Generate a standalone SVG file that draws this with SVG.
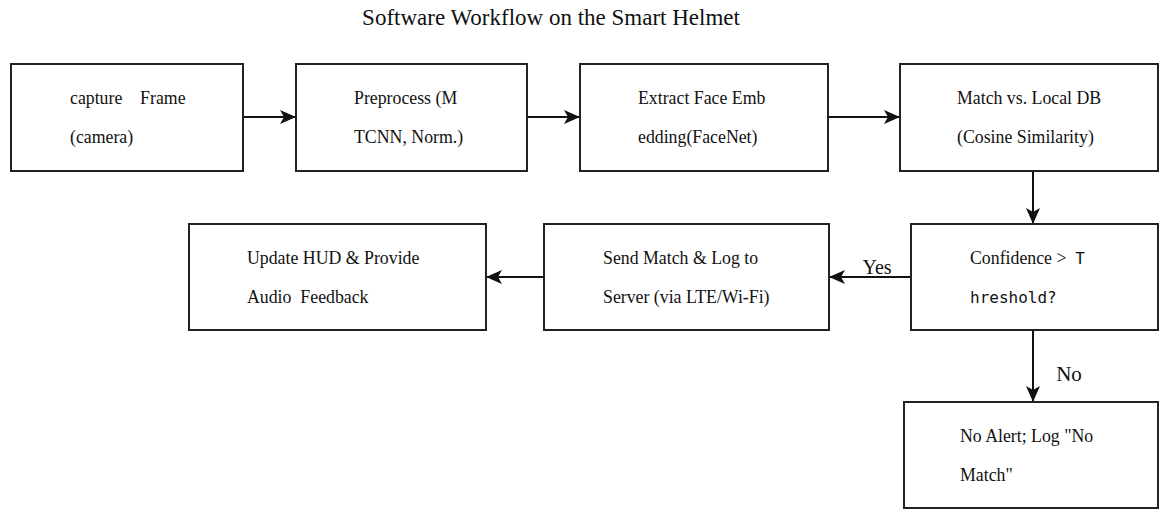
<svg xmlns="http://www.w3.org/2000/svg" width="1160" height="509" viewBox="0 0 1160 509">
<style>
.box{fill:#fff;stroke:#222;stroke-width:2}
.t{font-family:"Liberation Serif","Times New Roman",serif;font-size:17.8px;fill:#111}
.m{font-family:"DejaVu Sans Mono","Liberation Mono",monospace;font-size:16px;fill:#111}
.lbl{font-family:"Liberation Serif","Times New Roman",serif;font-size:20px;fill:#111}
.c{fill:none;stroke:#111;stroke-width:2}
</style>
<defs>
<marker id="ah" viewBox="0 0 16 14" refX="15" refY="7" markerWidth="16" markerHeight="14" markerUnits="userSpaceOnUse" orient="auto">
<path d="M0,0 L16,7 L0,14 L4,7 Z" fill="#111"/>
</marker>
</defs>
<rect width="1160" height="509" fill="#fff"/>
<text x="551" y="25" text-anchor="middle" class="lbl" style="font-size:23px">Software Workflow on the Smart Helmet</text>
<g id="connectors">
<line class="c" x1="243" y1="117" x2="295" y2="117" marker-end="url(#ah)"/>
<line class="c" x1="527" y1="117" x2="579" y2="117" marker-end="url(#ah)"/>
<line class="c" x1="828" y1="117" x2="899" y2="117" marker-end="url(#ah)"/>
<line class="c" x1="1033" y1="171" x2="1033" y2="223" marker-end="url(#ah)"/>
<line class="c" x1="911" y1="277" x2="830" y2="277" marker-end="url(#ah)"/>
<line class="c" x1="544" y1="277" x2="487" y2="277" marker-end="url(#ah)"/>
<line class="c" x1="1033" y1="330" x2="1033" y2="401" marker-end="url(#ah)"/>
<text x="877" y="274" text-anchor="middle" class="lbl">Yes</text>
<text x="1069" y="381" text-anchor="middle" class="lbl" style="font-size:21px">No</text>
</g>
<g id="capture">
<rect class="box" x="11" y="64" width="232" height="107"/>
<text class="t" x="70" y="104" xml:space="preserve">capture    Frame</text>
<text class="t" x="70" y="143">(camera)</text>
</g>
<g id="preprocess">
<rect class="box" x="296" y="64" width="231" height="107"/>
<text class="t" x="354" y="104">Preprocess (M</text>
<text class="t" x="354" y="143">TCNN, Norm.)</text>
</g>
<g id="extract">
<rect class="box" x="580" y="64" width="248" height="107"/>
<text class="t" x="638" y="104">Extract Face Emb</text>
<text class="t" x="638" y="143">edding(FaceNet)</text>
</g>
<g id="match">
<rect class="box" x="900" y="64" width="258" height="107"/>
<text class="t" x="957" y="104">Match vs. Local DB</text>
<text class="t" x="957" y="143">(Cosine Similarity)</text>
</g>
<g id="confidence">
<rect class="box" x="911" y="224" width="247" height="106"/>
<text class="t" x="970" y="264" xml:space="preserve">Confidence &gt;  <tspan class="m">T</tspan></text>
<text class="m" x="970" y="303">hreshold?</text>
</g>
<g id="send">
<rect class="box" x="544" y="224" width="285" height="106"/>
<text class="t" x="603" y="264">Send Match &amp; Log to</text>
<text class="t" x="603" y="303">Server (via LTE/Wi-Fi)</text>
</g>
<g id="update">
<rect class="box" x="189" y="224" width="297" height="106"/>
<text class="t" x="247" y="264">Update HUD &amp; Provide</text>
<text class="t" x="247" y="303" xml:space="preserve">Audio  Feedback</text>
</g>
<g id="noalert">
<rect class="box" x="904" y="402" width="254" height="106"/>
<text class="t" x="960" y="442">No Alert; Log "No</text>
<text class="t" x="960" y="481">Match"</text>
</g>
</svg>
